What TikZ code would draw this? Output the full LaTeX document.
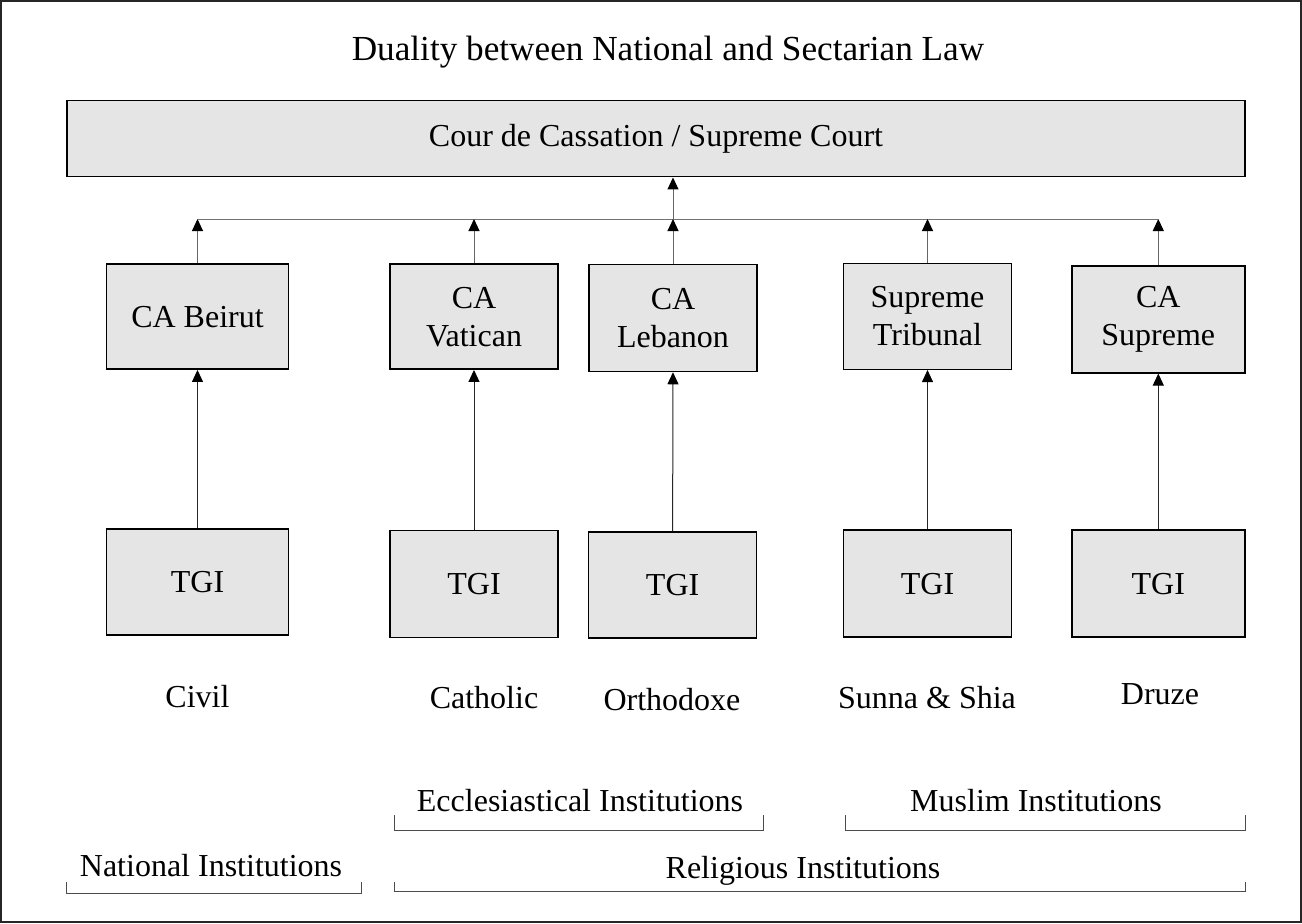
\documentclass[tikz,border=0pt]{standalone}
\usepackage{fontspec}
\setmainfont{Liberation Serif}
\usetikzlibrary{arrows.meta}

\begin{document}
\begin{tikzpicture}
  [x=0.5pt,y=-0.5pt,every node/.style={font=\fontsize{16}{19}\selectfont,inner sep=0pt}]
  \tikzstyle{court} = [draw=black,line width=0.75pt,fill=gray!20,align=center]
  \tikzstyle{sect} = [anchor=base]
  \tikzstyle{up} = [-{Triangle[length=6pt,width=5.5pt,color=black]},line width=0.5pt,draw=black!85]
  \tikzstyle{group} = [draw=black!70,line width=0.5pt]
  \useasboundingbox (0,0) rectangle (1302,923);
  \draw[line width=1pt,draw=black!85] (1,1) rectangle (1301,922);

  \node[sect,font=\fontsize{17.6}{20}\selectfont] (title) at (668,60) {Duality between\ National and Sectarian Law};
  \node[court,minimum width=589pt,minimum height=38pt] (cass) at (656,138.7) {Cour de Cassation / Supreme Court};

  % courts of appeal
\foreach \name/\x/\y/\w/\h/\txt in {beirut/197.5/316.7/91/52.5/CA Beirut,
    vatican/474/316.7/84/52.5/CA\\Vatican, lebanon/673/318/84/53.5/CA\\Lebanon,
    tribunal/927.5/316.3/84/53/Supreme\\Tribunal, casup/1158.3/319.3/86.5/53.5/CA\\Supreme}
   \node[court,minimum width=\w pt,minimum height=\h pt] (\name) at (\x,\y) {\txt};

  % first instance
\foreach \name/\x/\y/\w/\h in {tgi1/197.5/582/91/53, tgi2/474/584/84/53.3,
    tgi3/672.6/585/84/53, tgi4/927.5/583.6/84/53.5, tgi5/1158.3/583.6/86.5/53.5}
   \node[court,minimum width=\w pt,minimum height=\h pt] (\name) at (\x,\y) {TGI};

  \node[sect] (civil) at (197.5,707) {Civil};
  \node[sect] (catholic) at (484,708) {Catholic};
  \node[sect] (orthodoxe) at (672,710) {Orthodoxe};
  \node[sect] (sunna) at (927,708) {Sunna \& Shia};
  \node[sect] (druze) at (1160,704) {Druze};

  % links
  \coordinate (bus) at (0,219);
  \draw[draw=black!55,line width=0.5pt] (beirut.north |- bus) -- (casup.north |- bus);
\foreach \ca/\tgi in {beirut/tgi1,vatican/tgi2,lebanon/tgi3,tribunal/tgi4,casup/tgi5} {
   \draw[up] (\tgi.north) -- (\ca.south);
   \draw[up,draw=black!60] (\ca.north) -- (\ca.north |- bus);
}
  \draw[up,draw=black!60] (lebanon.north |- bus) -- (lebanon.north |- cass.south);

  % groups
  \node[sect] (eccl) at (580,811.7) {Ecclesiastical Institutions};
  \node[sect] (muslim) at (1036,811.7) {Muslim Institutions};
  \node[sect] (national) at (211,876.7) {National Institutions};
  \node[sect] (religious) at (803,878) {Religious Institutions};
  \coordinate (e1) at (394.7,815);  \coordinate (e2) at (763,830);
  \coordinate (m1) at (845.4,815);  \coordinate (m2) at (1245.6,830);
  \coordinate (n1) at (66.7,881.7); \coordinate (n2) at (361.7,893.3);
  \coordinate (r1) at (394.7,881.7); \coordinate (r2) at (1245.6,891);
\foreach \a/\b in {e1/e2,m1/m2,n1/n2,r1/r2}
   \draw[group] (\a) |- (\b) -- (\b |- \a);

\end{tikzpicture}
\end{document}
